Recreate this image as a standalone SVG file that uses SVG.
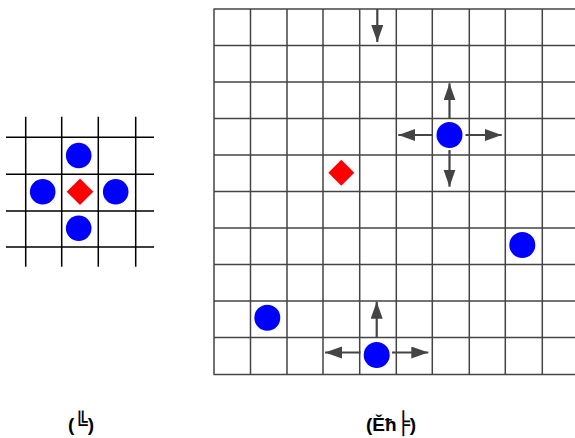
<svg xmlns="http://www.w3.org/2000/svg" width="575" height="438" viewBox="0 0 575 438">
<style>
.g1{stroke:#000;stroke-width:1.5;fill:none}
.g2{stroke:#444;stroke-width:1.5;fill:none}
.ag{fill:#0000ff}
.ob{fill:#ff0000}
.ar{stroke:#444;stroke-width:2.2;fill:none;marker-end:url(#ah)}
.lb{font-family:"Liberation Sans",Arial,sans-serif;font-weight:bold;font-size:19px;fill:#000;text-anchor:middle}
.bx{font-family:"DejaVu Sans",sans-serif;font-size:22px}
</style>
<defs>
<marker id="ah" markerUnits="userSpaceOnUse" markerWidth="18" markerHeight="13" refX="17" refY="6" orient="auto">
<path d="M0,0 L17,6 L0,12 z" fill="#444"/>
</marker>
</defs>
<rect width="575" height="438" fill="#fff"/>
<g id="grid-left">
<path class="g1" d="M6,137.3H154M6,174.3H154M6,211H154M6,247H154M25.7,116.7V266.7M61.7,116.7V266.7M98.3,116.7V266.7M135.7,116.7V266.7"/>
</g>
<g id="left-agents">
<circle class="ag" cx="78.7" cy="155.5" r="12.8"/>
<circle class="ag" cx="42.7" cy="191.7" r="12.8"/>
<circle class="ag" cx="115.7" cy="191.7" r="12.8"/>
<circle class="ag" cx="78.7" cy="228.3" r="12.8"/>
</g>
<g id="left-target">
<polygon class="ob" points="80,178.4 93.3,191.7 80,205 66.7,191.7"/>
</g>
<g id="grid-right">
<path class="g2" d="M213.5,9H580M213.5,45.5H580M213.5,82H580M213.5,118.5H580M213.5,155H580M213.5,191.5H580M213.5,228H580M213.5,264.5H580M213.5,301H580M213.5,337.5H580M213.5,374.5H580
M214,9V374.5M250.5,9V374.5M287,9V374.5M323,9V374.5M359.7,9V374.5M396.3,9V374.5M432.3,9V374.5M469.3,9V374.5M505.3,9V374.5M542.3,9V374.5"/>
</g>
<g id="right-target">
<polygon class="ob" points="341.3,159.7 354.3,172.7 341.3,185.7 328.3,172.7"/>
</g>
<g id="agent-a">
<circle class="ag" cx="449.5" cy="135" r="13"/>
</g>
<g id="agent-b">
<circle class="ag" cx="522.3" cy="245" r="13"/>
</g>
<g id="agent-c">
<circle class="ag" cx="267.3" cy="317.7" r="13"/>
</g>
<g id="agent-d">
<circle class="ag" cx="376.7" cy="355" r="13"/>
</g>
<g id="connectors">
<line class="ar" x1="377.3" y1="9" x2="377.3" y2="42"/>
<line class="ar" x1="449.5" y1="119" x2="449.5" y2="83.3"/>
<line class="ar" x1="433" y1="135" x2="398.3" y2="135"/>
<line class="ar" x1="465.5" y1="135" x2="501.7" y2="135"/>
<line class="ar" x1="449.5" y1="150" x2="449.5" y2="186.7"/>
<line class="ar" x1="376.7" y1="337" x2="376.7" y2="301.7"/>
<line class="ar" x1="360.5" y1="352.5" x2="325" y2="352.5"/>
<line class="ar" x1="392" y1="352.5" x2="428.3" y2="352.5"/>
</g>
<g id="labels">
<text class="lb" x="81" y="431">(<tspan class="bx">╚</tspan>)</text>
<text class="lb" x="391" y="431">(Ěħ<tspan class="bx">╞</tspan>)</text>
</g>
</svg>
